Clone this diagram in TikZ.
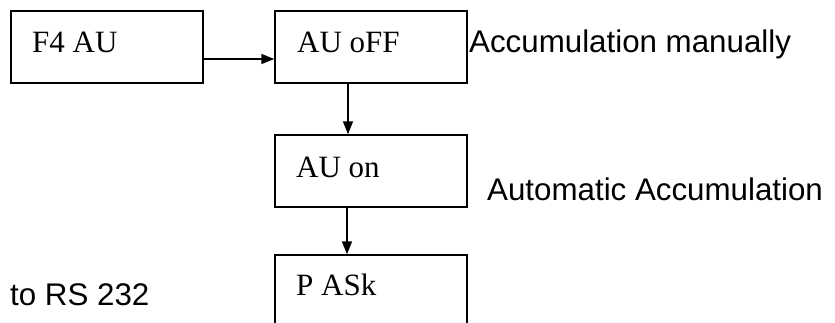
\documentclass[tikz,border=0pt]{standalone}
\usepackage{fontspec}
\setmainfont{Liberation Serif}
\newfontfamily\sansf{Liberation Sans}
\usetikzlibrary{arrows.meta}
\begin{document}
\begin{tikzpicture}[x=1pt,y=-1pt,
  boxst/.style={draw, line width=1.5pt, minimum width=192pt, minimum height=72pt, inner sep=0pt},
  boxtxt/.style={anchor=base west, inner sep=0pt, font=\fontsize{31}{37}\selectfont},
  sidetxt/.style={anchor=base west, inner sep=0pt, font=\sansf\fontsize{31.3}{38}\selectfont},
  arr/.style={line width=1.7pt, -{Triangle[length=13pt,width=10pt]}}]
\useasboundingbox (0,0) rectangle (835,322);
\clip (0,0) rectangle (835,322);
\node[boxst] (b1) at (107,47) {};
\node[boxst] (b2) at (371,47) {};
\node[boxst] (b3) at (371,171) {};
\node[boxst] (b4) at (371,291) {};
\node[boxtxt] (t1) at (32,52) {F4 AU};
\node[boxtxt] (t2) at (297,52) {AU oFF};
\node[boxtxt] (t3) at (296,177) {AU on};
\node[boxtxt] (t4) at (296,295) {P ASk};
\node[sidetxt] (s1) at (469,52) {Accumulation manually};
\node[sidetxt] (s2) at (487,200) {Automatic Accumulation};
\node[sidetxt] (s3) at (10,305) {to RS 232};
\draw[arr] ([yshift=-12pt]b1.east) -- ([yshift=-12pt]b2.west);
\draw[arr] ([xshift=-23pt]b2.south) -- ([xshift=-23pt]b3.north);
\draw[arr] ([xshift=-24pt]b3.south) -- ([xshift=-24pt]b4.north);
\end{tikzpicture}
\end{document}
